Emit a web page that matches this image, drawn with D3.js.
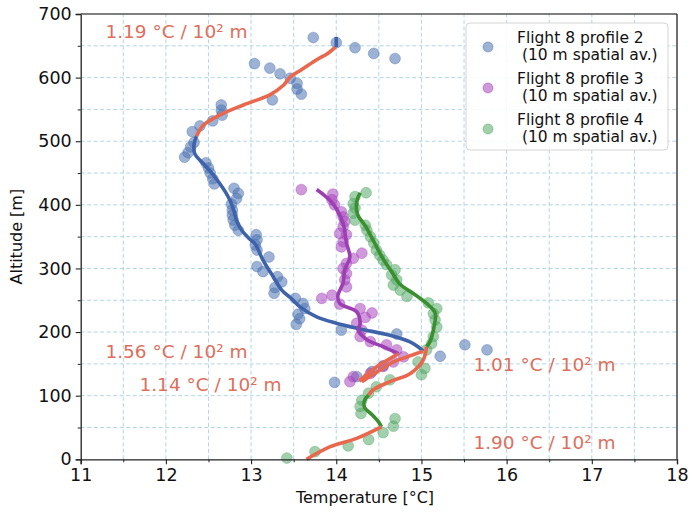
<!DOCTYPE html>
<html><head><meta charset="utf-8">
<script src="https://cdn.jsdelivr.net/npm/d3@7"></script>
<style>body{margin:0;background:#fff}svg{display:block}text{font-family:"DejaVu Sans",sans-serif}</style>
</head><body><svg id="c" width="692" height="517"></svg>
<script>
const xTicks = [11,12,13,14,15,16,17,18];
const yTicks = [0,100,200,300,400,500,600,700];
const seriesNames = ["Flight 8 profile 2\n (10 m spatial av.)","Flight 8 profile 3\n (10 m spatial av.)","Flight 8 profile 4\n (10 m spatial av.)"];
const p2Points = [[13.73,663],[14.0,655],[14.22,647],[14.44,638],[14.69,630],[13.04,622],[13.22,615],[13.34,606],[13.46,599],[13.54,591],[13.54,582],[13.59,574],[13.25,565],[12.65,557],[12.65,549],[12.66,541],[12.55,532],[12.40,524],[12.31,515],[12.33,498],[12.29,491],[12.26,482],[12.22,475],[12.47,466],[12.50,458],[12.52,450],[12.55,441],[12.57,433],[12.80,426],[12.85,418],[12.83,410],[12.77,401],[12.78,392],[12.78,384],[12.79,376],[12.81,368],[12.85,360],[13.06,353],[13.07,345],[13.05,337],[13.07,329],[13.21,318],[13.07,303],[13.14,295],[13.31,287],[13.36,279],[13.28,270],[13.27,261],[13.52,253],[13.61,245],[13.63,237],[13.55,228],[13.57,221],[13.53,212],[14.06,203],[14.71,197],[15.22,162],[15.51,180],[15.77,172],[14.55,147],[14.42,138],[14.24,130],[13.98,121]];
const p3Points = [[13.59,424],[13.96,417],[13.95,408],[13.98,400],[14.06,389],[14.08,381],[14.10,374],[14.08,366],[14.04,355],[14.12,353],[14.08,342],[14.06,334],[14.30,324],[14.20,316],[14.12,308],[14.08,300],[14.12,292],[14.10,282],[14.12,271],[13.95,258],[13.83,253],[14.04,244],[14.28,237],[14.42,230],[14.34,223],[14.24,214],[14.30,203],[14.28,193],[14.40,185],[14.59,180],[14.71,172],[14.79,161],[14.67,153],[14.55,146],[14.40,135],[14.20,130],[14.16,122]];
const p4Points = [[14.35,419],[14.22,413],[14.20,402],[14.22,395],[14.20,387],[14.22,376],[14.34,368],[14.36,360],[14.40,350],[14.44,340],[14.47,329],[14.51,321],[14.55,313],[14.59,306],[14.69,298],[14.65,290],[14.71,282],[14.67,274],[14.75,266],[14.83,256],[15.08,246],[15.18,237],[15.14,229],[15.16,219],[15.18,208],[15.14,193],[15.12,182],[15.06,172],[14.96,153],[15.04,143],[15.0,133],[14.63,125],[14.47,114],[14.38,104],[14.30,93],[14.28,83],[14.29,72],[14.69,64],[14.67,52],[14.55,42],[14.38,31],[14.14,21],[13.75,12],[13.42,2]];
const p2Top = [[14.0,664],[14.0,648]];
const p2Fit = [[12.36,508],[12.33,495],[12.34,480],[12.40,470],[12.46,462],[12.55,448],[12.63,434],[12.70,420],[12.76,405],[12.80,390],[12.83,375],[12.89,360],[12.97,348],[13.05,338],[13.14,313],[13.26,287],[13.36,266],[13.48,252],[13.57,240],[13.77,224],[14.0,214],[14.28,205],[14.63,195],[14.86,185],[14.96,177],[15.02,170]];
const p3Fit = [[13.77,424],[13.96,402],[14.08,371],[14.12,340],[14.16,318],[14.10,298],[14.08,277],[14.02,258],[14.04,245],[14.24,232],[14.28,214],[14.26,203],[14.36,188],[14.55,177],[14.73,166]];
const p4FitUpper = [[14.28,419],[14.24,405],[14.25,385],[14.35,365],[14.45,340],[14.55,315],[14.65,295],[14.75,275],[14.90,261],[15.06,245],[15.16,230],[15.14,203],[15.10,185],[15.06,177]];
const p4FitLower = [[14.38,101],[14.33,92],[14.33,82],[14.42,70],[14.50,58],[14.53,51]];
const lapseLines = [
  [[13.99,648],[13.90,638],[13.77,628],[13.60,613],[13.46,601],[13.38,588],[13.22,573],[12.91,557],[12.63,541],[12.44,525],[12.36,508]],
  [[15.02,170],[14.83,161],[14.67,153],[14.51,140],[14.30,122]],
  [[14.73,166],[14.55,152],[14.40,138],[14.27,123]],
  [[15.06,177],[15.02,156],[14.87,135],[14.63,122],[14.43,109],[14.38,101]],
  [[14.53,51],[14.24,33],[13.93,20],[13.65,0]]
];
const lapseLabels = [["1.19 °C / 10² m",11.29,673],["1.56 °C / 10² m",11.29,169],["1.14 °C / 10² m",11.69,118],["1.01 °C / 10² m",15.61,149],["1.90 °C / 10² m",15.61,27]];

const W=692,H=517, m={l:80.7,r:15,t:14,b:57.7};
const svg=d3.select("#c");
const x=d3.scaleLinear().domain([11,18]).range([m.l,W-m.r]);
const y=d3.scaleLinear().domain([0,700]).range([H-m.b,m.t]);
const cols=["#4c72b0","#a845bd","#55a868"];
const lineCols=["#3f63ab","#9c3fb3","#3a8f2e"];
const red="#e8674d";

// grid
const g=svg.append("g");
const xg=d3.range(11,18.01,0.5), yg=d3.range(0,700.1,50);
g.selectAll(".vx").data(xg.slice(1,-1)).join("line").attr("x1",d=>x(d)).attr("x2",d=>x(d)).attr("y1",y(0)).attr("y2",y(700))
 .attr("stroke","#a9d0e3").attr("stroke-width",0.9).attr("stroke-dasharray","4,2.5");
g.selectAll(".hy").data(yg.slice(1,-1)).join("line").attr("y1",d=>y(d)).attr("y2",d=>y(d)).attr("x1",x(11)).attr("x2",x(18))
 .attr("stroke","#a9d0e3").attr("stroke-width",0.9).attr("stroke-dasharray","4,2.5");

const plot=svg.append("g");
[p2Points,p3Points,p4Points].forEach((pts,i)=>{
  plot.append("g").selectAll("circle").data(pts).join("circle").attr("cx",d=>x(d[0])).attr("cy",d=>y(d[1])).attr("r",5.4)
   .attr("fill",cols[i]).attr("fill-opacity",0.55).attr("stroke",cols[i]).attr("stroke-opacity",0.5).attr("stroke-width",0.8);
});
const line=d3.line().x(d=>x(d[0])).y(d=>y(d[1])).curve(d3.curveCatmullRom.alpha(0.5));
const fits=[[p2Top,lineCols[0]],[p2Fit,lineCols[0]],[p3Fit,lineCols[1]],[p4FitUpper,lineCols[2]],[p4FitLower,lineCols[2]]];
fits.forEach(([d,c])=>plot.append("path").attr("d",line(d)).attr("fill","none").attr("stroke",c).attr("stroke-width",3.6).attr("stroke-linecap","butt"));
lapseLines.forEach(d=>plot.append("path").attr("d",line(d)).attr("fill","none").attr("stroke",red).attr("stroke-width",3.6).attr("stroke-linecap","butt"));

lapseLabels.forEach(([t,tx,ty])=>svg.append("text").attr("x",x(tx)).attr("y",y(ty)).attr("dy","0.35em").attr("fill","#dc6f5d").attr("font-size",18.5).text(t));

// axes
const xa=svg.append("g").attr("transform",`translate(0,${y(0)})`).call(d3.axisBottom(x).tickValues(xTicks).tickFormat(d3.format("d")).tickSize(5).tickPadding(4));
const ya=svg.append("g").attr("transform",`translate(${x(11)},0)`).call(d3.axisLeft(y).tickValues(yTicks).tickFormat(d3.format("d")).tickSize(5).tickPadding(4));
svg.append("g").attr("transform",`translate(0,${y(0)})`).call(d3.axisBottom(x).tickValues(d3.range(11.5,18,1)).tickFormat("").tickSize(3)).select(".domain").remove();
svg.append("g").attr("transform",`translate(${x(11)},0)`).call(d3.axisLeft(y).tickValues(d3.range(50,700,100)).tickFormat("").tickSize(3)).select(".domain").remove();
[xa,ya].forEach(a=>{a.selectAll("text").attr("font-size",17.5).attr("fill","#111");a.select(".domain").attr("stroke","#222").attr("stroke-width",1.3);a.selectAll("line").attr("stroke","#222").attr("stroke-width",1.1);});
svg.selectAll(".tick line").attr("stroke","#222");
svg.append("line").attr("x1",x(11)).attr("x2",x(18)).attr("y1",y(700)).attr("y2",y(700)).attr("stroke","#555").attr("stroke-width",1.3);
svg.append("line").attr("x1",x(18)).attr("x2",x(18)).attr("y1",y(700)).attr("y2",y(0)).attr("stroke","#222").attr("stroke-width",1.3);

svg.append("text").attr("x",365).attr("y",503).attr("text-anchor","middle").attr("font-size",16).attr("fill","#111").text("Temperature [°C]");
svg.append("text").attr("transform",`translate(22,${(y(0)+y(700))/2}) rotate(-90)`).attr("text-anchor","middle").attr("font-size",16).attr("fill","#111").text("Altitude [m]");

// legend
const lg=svg.append("g");
lg.append("rect").attr("x",466).attr("y",23).attr("width",202).attr("height",127).attr("rx",4).attr("fill","#fff").attr("fill-opacity",0.85).attr("stroke","#d5d5d5");
seriesNames.forEach((n,i)=>{
  const cy=47+i*41;
  lg.append("circle").attr("cx",488).attr("cy",cy).attr("r",5).attr("fill",cols[i]).attr("fill-opacity",0.55).attr("stroke",cols[i]).attr("stroke-opacity",0.5);
  const parts=n.split("\n");
  const t=lg.append("text").attr("font-size",15.5).attr("fill","#111").attr("xml:space","preserve");
  t.append("tspan").attr("x",517).attr("y",cy-10+5.5).text(parts[0]);
  t.append("tspan").attr("x",517).attr("y",cy+7+5.5).text(parts[1]);
});
</script></body></html>
